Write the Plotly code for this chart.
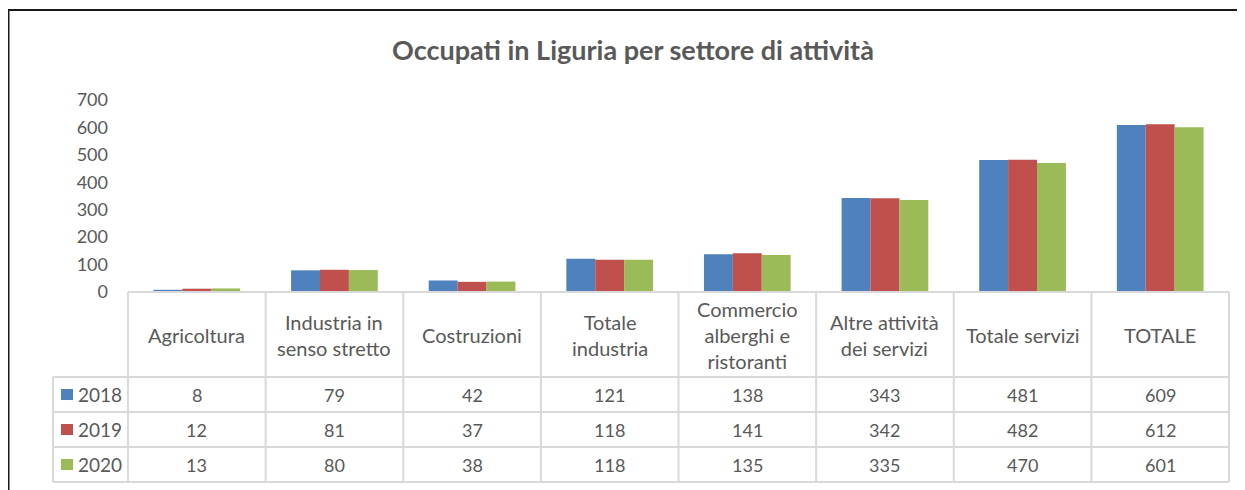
import plotly.graph_objects as go

categories = ["Agricoltura", "Industria in<br>senso stretto", "Costruzioni", "Totale<br>industria",
              "Commercio<br>alberghi e<br>ristoranti", "Altre attività<br>dei servizi", "Totale servizi", "TOTALE"]
years = ["2018", "2019", "2020"]
v2018 = [8, 79, 42, 121, 138, 343, 481, 609]
v2019 = [12, 81, 37, 118, 141, 342, 482, 612]
v2020 = [13, 80, 38, 118, 135, 335, 470, 601]
series = [v2018, v2019, v2020]
colors = ["#4F81BD", "#C0504D", "#9BBB59"]
yticks = [0, 100, 200, 300, 400, 500, 600, 700]

W, H = 1245, 490
OFF = 8  # page body margin
# plot area in page pixels: x 128..1229, y 100..292
PX0, PX1, PY0, PY1 = 128, 1229, 100, 292
L, T = PX0 - OFF, PY0 - OFF
R = W - (PX1 - OFF)
B = H - (PY1 - OFF)
PW, PH = PX1 - PX0, PY1 - PY0
FONT = "Lato"
TXT = "#595959"
GRID = "#D9D9D9"


def px(x):
    return (x - PX0) / PW


def py(y):
    return (PY1 - y) / PH


n = len(categories)
fig = go.Figure()
for yr, vals, c in zip(years, series, colors):
    fig.add_trace(go.Bar(x=list(range(n)), y=vals, name=yr, marker=dict(color=c, line=dict(width=0)),
                         showlegend=False))

shapes = []
annotations = []

# table geometry (page pixels)
header_top, header_bot = 292, 377
row_edges = [377, 412, 447, 482]
legend_left = 53

line = dict(color=GRID, width=2)
shapes.append(dict(type="line", xref="paper", yref="paper", x0=0, x1=1, y0=py(header_top), y1=py(header_top), line=line))
for ry in row_edges:
    shapes.append(dict(type="line", xref="paper", yref="paper", x0=px(legend_left), x1=1, y0=py(ry), y1=py(ry), line=line))
for i in range(n + 1):
    shapes.append(dict(type="line", xref="paper", yref="paper", x0=i / n, x1=i / n,
                       y0=py(header_top), y1=py(row_edges[-1]), line=line))
shapes.append(dict(type="line", xref="paper", yref="paper", x0=px(legend_left), x1=px(legend_left),
                   y0=py(row_edges[0]), y1=py(row_edges[-1]), line=line))

for i, cat in enumerate(categories):
    annotations.append(dict(x=(i + 0.5) / n, y=py((header_top + header_bot) / 2), xref="paper", yref="paper",
                            text=cat, showarrow=False, font=dict(family=FONT, size=20, color=TXT),
                            xanchor="center", yanchor="middle", align="center"))
for r, (yr, vals, c) in enumerate(zip(years, series, colors)):
    yc = (row_edges[r] + row_edges[r + 1]) / 2
    for i, v in enumerate(vals):
        annotations.append(dict(x=(i + 0.5) / n, y=py(yc), xref="paper", yref="paper", text=str(v),
                                showarrow=False, font=dict(family=FONT, size=18, color=TXT),
                                xanchor="center", yanchor="middle"))
    shapes.append(dict(type="rect", xref="paper", yref="paper", x0=px(61), x1=px(73), y0=py(yc - 5.5), y1=py(yc + 5.5),
                       fillcolor=c, line=dict(width=0)))
    annotations.append(dict(x=px(76), y=py(yc), xref="paper", yref="paper", text=yr, showarrow=False,
                            font=dict(family=FONT, size=19, color=TXT), xanchor="left", yanchor="middle"))

annotations.append(dict(x=px(633), y=py(49), xref="paper", yref="paper",
                        text="<b>Occupati in Liguria per settore di attività</b>", showarrow=False,
                        font=dict(family=FONT, size=27, color=TXT), xanchor="center", yanchor="middle"))

# outer frame
shapes.append(dict(type="rect", xref="paper", yref="paper", x0=px(8.5), x1=px(1270), y0=py(10), y1=py(520),
                   line=dict(color="#1a1a1a", width=2), fillcolor="rgba(0,0,0,0)"))

fig.update_layout(
    width=W, height=H, margin=dict(l=L, r=R, t=T, b=B),
    paper_bgcolor="white", plot_bgcolor="white",
    barmode="group", bargap=0.37, bargroupgap=0,
    shapes=shapes, annotations=annotations,
    xaxis=dict(range=[-0.5, n - 0.5], showticklabels=False, showgrid=False, zeroline=False, showline=False,
               ticks="", fixedrange=True),
    yaxis=dict(range=[0, 700], tickvals=yticks, showgrid=False, zeroline=False, showline=False, ticks="",
               ticklabelstandoff=19, tickfont=dict(family=FONT, size=18, color=TXT)),
)

fig.write_html("out.html")
